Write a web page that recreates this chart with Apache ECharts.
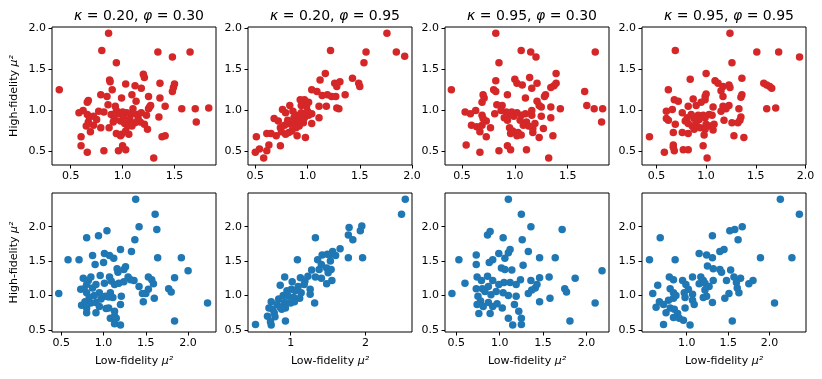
<!DOCTYPE html>
<html>
<head>
<meta charset="utf-8">
<script src="https://cdn.jsdelivr.net/npm/echarts@6.0.0/dist/echarts.min.js"></script>
<style>
  html, body { margin: 0; padding: 0; background: #fff; }
  #box { width: 822px; height: 379px; }
</style>
</head>
<body>
<div id="box"></div>
<script>
// panel titles
var titles = [
    ['0.20', '0.30'], ['0.20', '0.95'], ['0.95', '0.30'], ['0.95', '0.95']
];

// top row (red): [low-fidelity, high-fidelity]
var redA = [[0.39,1.25],[0.865,1.94],[0.80,1.73],[0.94,1.58],[1.34,1.71],[1.48,1.65],[1.65,1.71],[1.20,1.44],[1.21,1.40],[0.875,1.37],[0.88,1.35],[1.36,1.33],[1.03,1.32],[1.12,1.30],[1.18,1.27],[1.50,1.32],[1.49,1.28],[1.48,1.23],[0.90,1.25],[0.79,1.19],[0.85,1.17],[1.09,1.19],[1.25,1.17],[0.67,1.12],[0.66,1.10],[0.99,1.15],[1.13,1.11],[1.36,1.15],[0.86,1.07],[1.27,1.06],[1.26,1.04],[1.25,1.02],[1.41,1.05],[1.57,1.02],[1.70,1.02],[1.83,1.03],[1.71,0.86],[1.35,0.92],[0.58,0.97],[0.62,1.0],[0.66,0.95],[0.68,0.92],[0.77,0.99],[0.82,0.98],[0.93,1.05],[0.94,1.0],[0.96,0.96],[1.0,0.98],[1.04,0.97],[1.08,0.95],[1.14,0.95],[1.15,0.90],[1.18,0.97],[1.23,0.94],[0.67,0.86],[0.72,0.82],[0.75,0.89],[0.65,0.81],[0.69,0.74],[0.79,0.79],[0.87,0.79],[0.92,0.90],[0.91,0.86],[0.98,0.87],[1.02,0.84],[1.05,0.81],[1.09,0.81],[1.07,0.89],[1.12,0.85],[1.17,0.86],[1.21,0.83],[0.94,0.72],[0.99,0.71],[1.03,0.75],[1.06,0.71],[0.98,0.69],[1.24,0.77],[0.60,0.68],[0.60,0.57],[0.66,0.49],[0.82,0.51],[0.96,0.51],[1.0,0.57],[1.03,0.52],[1.30,0.42],[1.38,0.68],[1.41,0.69],[0.89,0.95],[1.01,0.92],[0.72,0.93],[1.10,1.02]];
var redB = [[1.76,1.94],[1.85,1.71],[1.93,1.66],[1.22,1.73],[1.56,1.71],[1.54,1.58],[1.43,1.39],[1.49,1.33],[1.50,1.29],[1.17,1.45],[1.12,1.37],[1.26,1.33],[1.31,1.35],[1.28,1.29],[1.04,1.25],[1.09,1.23],[1.14,1.18],[1.19,1.19],[1.23,1.17],[1.36,1.19],[1.27,1.17],[0.93,1.13],[0.97,1.13],[1.01,1.10],[0.99,1.05],[1.11,1.05],[1.18,1.05],[1.28,1.03],[1.30,1.02],[0.83,1.06],[0.76,1.01],[0.79,0.97],[0.86,0.99],[0.89,0.94],[0.94,0.97],[0.97,0.91],[1.01,0.94],[1.04,0.96],[1.11,0.91],[0.68,0.90],[0.72,0.87],[0.78,0.82],[0.81,0.88],[0.84,0.83],[0.88,0.86],[0.92,0.81],[1.04,0.84],[0.93,0.89],[0.89,0.79],[0.85,0.75],[0.79,0.71],[0.90,0.69],[0.98,0.67],[0.82,0.73],[0.65,0.72],[0.61,0.72],[0.70,0.69],[0.51,0.68],[0.63,0.58],[0.74,0.57],[0.54,0.53],[0.50,0.49],[0.61,0.51],[0.58,0.42],[0.74,0.79],[0.75,0.74],[0.94,1.06],[0.96,0.85],[1.0,0.99],[0.87,0.91]];
var redC = [[0.40,1.25],[0.82,1.94],[0.85,1.58],[1.06,1.73],[1.15,1.71],[1.20,1.65],[0.82,1.36],[0.80,1.25],[0.82,1.23],[1.0,1.38],[1.02,1.33],[1.07,1.31],[1.14,1.40],[1.21,1.33],[1.16,1.27],[1.39,1.45],[1.39,1.33],[1.37,1.30],[1.34,1.28],[1.29,1.19],[1.28,1.17],[0.93,1.19],[1.10,1.15],[0.70,1.19],[0.71,1.15],[0.69,1.10],[0.83,1.07],[0.88,1.06],[0.81,0.96],[1.21,1.11],[1.23,1.06],[1.25,1.04],[1.34,1.04],[1.43,1.02],[0.53,0.98],[0.58,0.96],[0.63,1.0],[0.69,0.94],[0.70,0.90],[0.73,0.87],[0.59,0.82],[0.64,0.80],[0.69,0.82],[0.77,0.79],[0.67,0.74],[0.73,0.68],[0.87,1.0],[0.92,0.98],[0.94,0.95],[0.97,0.98],[0.99,0.93],[1.02,0.97],[0.90,0.91],[0.93,0.88],[1.06,0.94],[1.10,0.96],[1.16,1.0],[1.16,0.94],[1.25,0.93],[1.34,0.91],[1.05,0.88],[1.11,0.86],[1.08,0.82],[1.19,0.84],[1.13,0.81],[1.17,0.78],[0.95,0.79],[0.98,0.75],[1.03,0.73],[0.96,0.72],[1.06,0.70],[1.02,0.69],[1.17,0.73],[1.27,0.78],[1.23,0.67],[1.36,0.69],[0.54,0.58],[0.67,0.49],[0.85,0.51],[0.93,0.57],[0.96,0.52],[1.11,0.52],[1.32,0.42],[1.76,1.71],[1.66,1.23],[1.68,1.06],[1.75,1.02],[1.83,1.02],[1.82,0.86]];
var redD = [[0.43,0.68],[0.69,1.73],[1.24,1.94],[1.26,1.58],[1.51,1.71],[1.73,1.71],[1.94,1.65],[1.0,1.45],[0.84,1.38],[0.62,1.25],[1.09,1.36],[1.12,1.33],[1.17,1.29],[1.23,1.31],[1.24,1.28],[1.15,1.24],[1.17,1.17],[1.36,1.39],[1.36,1.19],[1.35,1.16],[1.58,1.33],[1.61,1.31],[1.64,1.29],[1.66,1.27],[1.61,1.02],[1.70,1.03],[0.68,1.13],[0.72,1.11],[0.87,1.14],[0.99,1.17],[1.0,1.20],[0.95,1.10],[0.99,1.13],[0.82,1.05],[0.90,1.06],[1.07,1.04],[1.17,1.05],[1.20,1.02],[1.23,1.06],[1.33,1.02],[0.60,0.99],[0.66,1.01],[0.76,0.97],[0.60,0.90],[0.62,0.88],[0.69,0.83],[0.67,0.73],[0.79,0.87],[0.81,0.91],[0.85,0.95],[0.88,0.90],[0.92,0.94],[0.93,0.89],[0.97,0.94],[0.99,0.91],[1.03,0.95],[1.06,0.94],[0.82,0.84],[0.86,0.81],[0.90,0.83],[0.94,0.79],[0.88,0.77],[1.0,0.83],[1.04,0.81],[1.08,0.83],[1.07,0.76],[0.99,0.77],[0.98,0.70],[1.18,0.88],[1.15,0.99],[1.26,0.85],[1.32,0.85],[1.35,0.92],[1.34,0.88],[1.28,0.69],[1.38,0.67],[0.76,0.73],[0.82,0.72],[0.67,0.58],[0.67,0.55],[0.68,0.51],[0.77,0.52],[0.82,0.52],[0.58,0.49],[0.97,0.57],[1.01,0.42]];

// bottom row (blue)
var blueA = [[0.47,1.03],[0.58,1.52],[0.71,1.52],[0.80,1.84],[0.94,1.87],[1.04,1.94],[1.38,2.40],[1.61,2.18],[1.63,1.96],[1.42,2.0],[1.37,1.81],[1.33,1.64],[1.20,1.67],[0.87,1.58],[1.01,1.61],[1.07,1.58],[1.12,1.54],[1.0,1.48],[0.90,1.45],[1.64,1.55],[1.92,1.55],[2.0,1.36],[1.16,1.39],[1.17,1.34],[1.26,1.42],[1.24,1.38],[0.96,1.29],[0.76,1.25],[0.85,1.27],[0.82,1.22],[1.07,1.27],[1.29,1.27],[1.32,1.23],[1.36,1.22],[1.53,1.27],[1.57,1.23],[1.59,1.17],[1.84,1.26],[0.77,1.10],[0.73,1.09],[0.80,1.16],[0.87,1.11],[0.91,1.16],[1.01,1.18],[1.09,1.21],[1.13,1.16],[1.18,1.18],[1.24,1.20],[1.42,1.13],[1.53,1.09],[1.50,1.03],[1.46,1.03],[1.47,0.91],[1.60,0.96],[1.77,1.10],[1.80,1.05],[2.23,0.89],[1.84,0.63],[0.80,1.04],[0.89,1.0],[0.83,0.97],[0.95,1.04],[1.02,0.99],[1.08,1.04],[1.06,0.98],[1.11,0.97],[1.21,0.99],[0.74,0.86],[0.78,0.91],[0.80,0.82],[0.85,0.89],[0.91,0.90],[0.97,0.95],[1.03,0.81],[0.80,0.75],[0.91,0.75],[1.13,0.77],[1.20,0.87],[1.08,0.67],[1.15,0.67],[1.13,0.59],[1.20,0.57],[1.13,0.70],[0.95,0.84],[1.06,0.82]];
var blueB = [[0.53,0.58],[0.74,0.57],[0.93,0.63],[1.32,0.89],[2.53,2.40],[2.48,2.18],[1.33,1.84],[1.09,1.52],[1.78,1.99],[1.95,2.01],[1.93,1.94],[1.77,1.88],[1.83,1.81],[1.66,1.68],[1.56,1.64],[1.49,1.60],[1.42,1.59],[1.52,1.59],[1.60,1.58],[1.77,1.55],[1.96,1.55],[1.36,1.52],[1.41,1.45],[1.53,1.50],[1.48,1.40],[1.38,1.38],[1.28,1.37],[1.54,1.38],[1.50,1.33],[1.55,1.22],[1.48,1.17],[1.41,1.25],[1.33,1.27],[1.23,1.28],[1.13,1.26],[0.92,1.27],[1.02,1.20],[1.19,1.21],[1.18,1.16],[1.10,1.13],[0.86,1.15],[1.26,1.09],[1.01,1.09],[0.95,1.07],[1.06,1.07],[1.14,1.04],[1.26,1.02],[0.90,1.0],[0.97,0.99],[1.04,0.97],[1.12,0.96],[0.84,0.95],[0.74,0.91],[0.82,0.87],[0.92,0.90],[1.0,0.89],[1.05,0.91],[0.76,0.80],[0.71,0.82],[0.86,0.83],[0.93,0.82],[0.78,0.75],[0.69,0.70],[0.79,0.69],[0.73,0.62],[0.88,0.80]];
var blueC = [[0.45,1.03],[0.53,1.52],[0.60,1.18],[0.73,1.59],[0.73,1.45],[0.86,1.88],[0.89,1.93],[1.04,1.84],[1.10,2.40],[1.25,2.18],[1.36,2.0],[1.72,1.96],[1.26,1.81],[1.12,1.67],[1.10,1.62],[1.33,1.64],[0.99,1.61],[1.06,1.54],[0.92,1.52],[0.88,1.48],[1.46,1.55],[1.64,1.55],[1.27,1.44],[1.02,1.40],[1.06,1.38],[1.14,1.37],[0.74,1.27],[0.79,1.22],[0.86,1.28],[0.92,1.22],[1.46,1.26],[1.57,1.27],[1.87,1.25],[1.36,1.22],[1.24,1.23],[1.19,1.16],[1.12,1.19],[1.05,1.19],[0.99,1.16],[1.43,1.16],[1.41,1.11],[1.37,1.08],[1.33,1.03],[0.73,1.10],[0.80,1.10],[0.87,1.13],[0.75,0.99],[0.78,0.92],[0.83,1.06],[0.90,1.01],[0.96,1.06],[1.04,1.04],[1.10,1.0],[1.19,0.99],[0.74,0.87],[0.81,0.84],[0.87,0.90],[0.92,0.84],[0.97,0.88],[1.03,0.82],[1.17,0.87],[0.76,0.74],[0.89,0.74],[1.22,0.77],[1.25,0.67],[1.10,0.67],[1.15,0.57],[1.25,0.58],[1.46,0.91],[1.58,0.96],[1.75,1.10],[1.77,1.05],[1.81,0.63],[2.10,0.89],[2.18,1.36]];
var blueD = [[0.55,1.52],[0.59,1.03],[0.65,1.15],[0.68,1.84],[0.86,1.52],[1.31,1.87],[2.13,2.40],[2.36,2.18],[1.67,2.0],[1.58,1.96],[1.52,1.94],[1.62,1.81],[1.45,1.67],[1.40,1.64],[1.15,1.61],[1.24,1.59],[1.31,1.55],[1.25,1.43],[1.32,1.39],[1.40,1.38],[1.42,1.34],[1.53,1.37],[1.89,1.55],[2.27,1.55],[0.79,1.27],[0.84,1.23],[0.95,1.22],[1.07,1.27],[1.17,1.27],[1.20,1.22],[1.32,1.22],[1.48,1.22],[1.57,1.27],[1.65,1.25],[1.60,1.19],[1.80,1.22],[1.75,1.17],[1.15,1.17],[1.22,1.18],[1.27,1.13],[1.22,1.08],[0.99,1.16],[1.02,1.09],[0.97,1.04],[1.07,1.02],[0.80,1.10],[0.84,1.04],[0.78,0.93],[0.84,0.96],[0.87,1.0],[0.98,0.97],[1.20,0.97],[1.24,0.99],[1.46,0.96],[1.51,1.03],[1.61,1.11],[1.63,1.04],[1.31,0.90],[1.07,0.93],[1.09,0.87],[2.06,0.89],[0.63,0.83],[0.67,0.91],[0.72,0.87],[0.75,0.75],[0.80,0.82],[0.85,0.80],[0.89,0.74],[0.84,0.68],[0.91,0.67],[0.98,0.82],[0.96,0.64],[0.72,0.58],[1.04,0.57],[1.55,0.63]];

// axis ranges and tick labels
var xRange = [[0.32,1.90],[0.43,2.0],[0.34,1.89],[0.355,2.005],[0.39,2.33],[0.43,2.62],[0.37,2.26],[0.46,2.44]];
var yRange = [[0.335,2.015],[0.47,2.49]];
var xTicks = [[0.5,1.0,1.5],[0.5,1.0,1.5,2.0],[0.5,1.0,1.5],[0.5,1.0,1.5,2.0],[0.5,1.0,1.5,2.0],[1,2],[0.5,1.0,1.5,2.0],[1.0,1.5,2.0]];
var yTicks = [0.5,1.0,1.5,2.0];

var panels = [redA, redB, redC, redD, blueA, blueB, blueC, blueD];
var lefts = [52, 248, 445, 642];
var tops = [27, 193];
var font = 'DejaVu Sans';

var nameStyle = {
    color: '#000', fontSize: 11, fontFamily: font,
    rich: {
        a: { fontSize: 11, fontFamily: font, color: '#000' },
        b: { fontSize: 11, fontFamily: font, fontStyle: 'italic', color: '#000' }
    }
};

function fmtOne(v) { return v.toFixed(1); }
function fmtInt(v) { return String(Math.round(v)); }

var myChart = echarts.init(document.getElementById('box'));

var grid = [], xAxis = [], yAxis = [], series = [], title = [];
for (let i = 0; i < 8; i++) {
    let row = i < 4 ? 0 : 1;
    let col = i % 4;
    grid.push({
        left: lefts[col], top: tops[row], width: 164, height: row == 0 ? 138 : 139,
        show: true, borderColor: '#000', borderWidth: 1, backgroundColor: 'transparent'
    });
    xAxis.push({
        type: 'value', gridIndex: i,
        min: xRange[i][0], max: xRange[i][1],
        splitLine: { show: false },
        axisLine: { show: false },
        axisTick: { show: true, length: 3.5, lineStyle: { color: '#000' }, customValues: xTicks[i] },
        axisLabel: {
            color: '#000', fontSize: 11, fontFamily: font, margin: 6,
            customValues: xTicks[i],
            formatter: i == 5 ? fmtInt : fmtOne
        },
        name: row == 1 ? '{a|Low-fidelity }{b|μ²}' : '',
        nameLocation: 'middle', nameGap: 24,
        nameTextStyle: nameStyle
    });
    yAxis.push({
        type: 'value', gridIndex: i,
        min: yRange[row][0], max: yRange[row][1],
        splitLine: { show: false },
        axisLine: { show: false },
        axisTick: { show: true, length: 3.5, lineStyle: { color: '#000' }, customValues: yTicks },
        axisLabel: {
            color: '#000', fontSize: 11, fontFamily: font, margin: 6,
            customValues: yTicks,
            formatter: fmtOne
        },
        name: col == 0 ? '{a|High-fidelity }{b|μ²}' : '',
        nameLocation: 'middle', nameGap: 32, nameRotate: 90,
        nameTextStyle: nameStyle
    });
    series.push({
        type: 'scatter', xAxisIndex: i, yAxisIndex: i,
        symbolSize: 7.5,
        itemStyle: { color: row == 0 ? '#d62728' : '#1f77b4', opacity: 1 },
        data: panels[i]
    });
    if (row == 0) {
        title.push({
            text: '{i|κ} = ' + titles[col][0] + ', {i|φ} = ' + titles[col][1],
            left: lefts[col] + 82, textAlign: 'center', top: 4,
            textStyle: {
                color: '#000', fontSize: 14, fontWeight: 'normal', fontFamily: font,
                rich: { i: { fontStyle: 'italic', fontSize: 14, fontFamily: font, color: '#000' } }
            }
        });
    }
}

var option = {
    backgroundColor: 'white',
    animation: false,
    title: title,
    grid: grid,
    xAxis: xAxis,
    yAxis: yAxis,
    series: series
};
myChart.setOption(option);
</script>
</body>
</html>
